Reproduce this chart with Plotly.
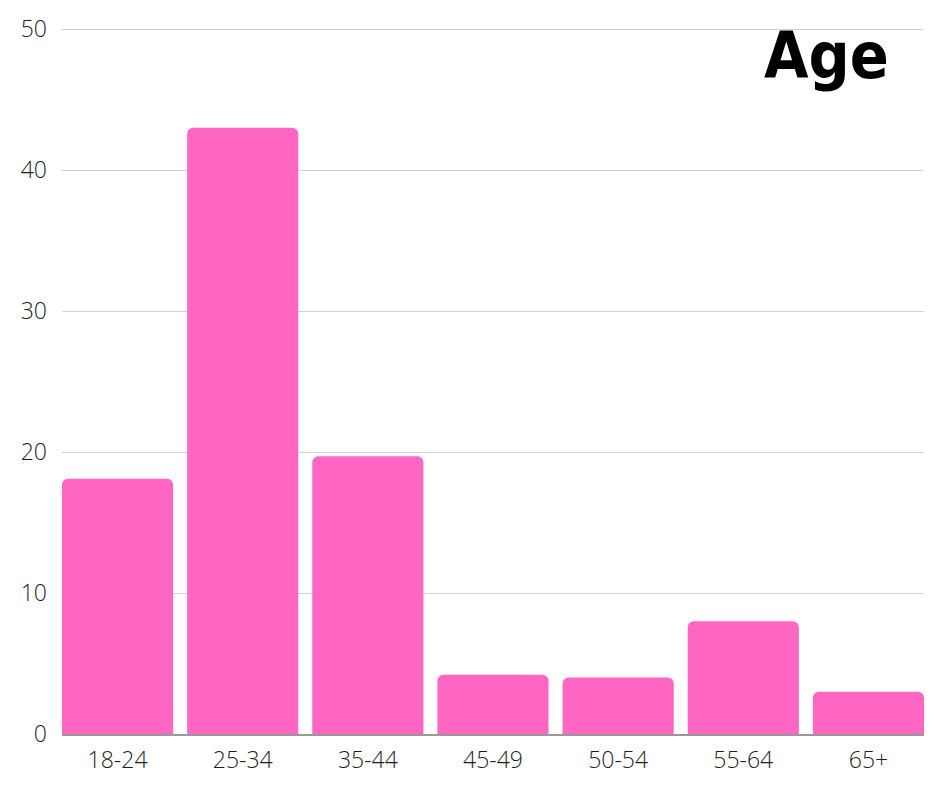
import plotly.graph_objects as go

categories = ["18-24", "25-34", "35-44", "45-49", "50-54", "55-64", "65+"]
values = [18.1, 43.0, 19.7, 4.2, 4.0, 8.0, 3.0]
y_ticks = [0, 10, 20, 30, 40, 50]
title_text = "Age"

bargap = 0.112
fig = go.Figure(go.Bar(x=categories, y=values, marker=dict(color="#FF66C4", line=dict(width=0))))

fig.update_layout(
    width=940, height=788,
    margin=dict(l=62, r=16, t=27, b=54),
    paper_bgcolor="white", plot_bgcolor="white",
    bargap=bargap,
    barcornerradius=6,
    showlegend=False,
    font=dict(family="Open Sans", size=23, color="#1e1e1e", weight=300),
)
fig.update_xaxes(
    range=[-0.5 + bargap / 2, len(categories) - 0.5 - bargap / 2],
    showgrid=False, showline=True, linecolor="#999999", linewidth=1.5,
    ticks="", ticklabelstandoff=5,
    tickfont=dict(family="Open Sans", size=23, color="#1e1e1e", weight=300),
)
fig.update_yaxes(
    range=[0, 50], tickvals=y_ticks, showgrid=True, gridcolor="#d3d3d3", gridwidth=1,
    zeroline=False, showline=False, ticks="", ticklabelstandoff=14,
    tickfont=dict(family="Open Sans", size=23, color="#1e1e1e", weight=300),
)
# top gridline at y=50 (plotly drops the grid line at the range edge)
fig.add_shape(type="line", xref="paper", yref="y", x0=0, x1=1, y0=y_ticks[-1], y1=y_ticks[-1],
              line=dict(color="#d3d3d3", width=2), layer="below")
fig.add_annotation(
    text="<b>" + title_text + "</b>", xref="paper", yref="y", x=0.962, y=48.1,
    xanchor="right", yanchor="middle", showarrow=False,
    font=dict(family="Liberation Sans Narrow, DejaVu Sans Condensed, Arial Narrow", size=64, color="black"),
)
fig.write_html("out.html")
